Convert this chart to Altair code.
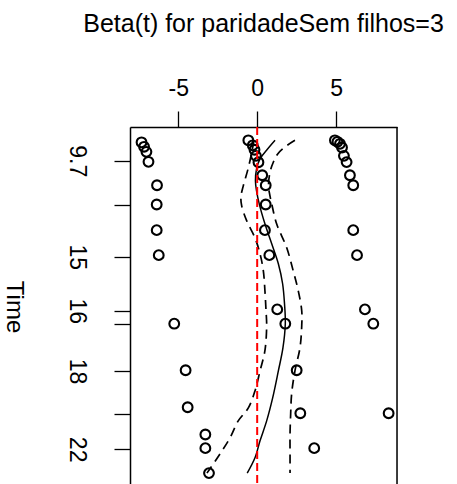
import altair as alt
import pandas as pd

# Schoenfeld-type residual points (beta) vs transformed time (0..1, KM scale)
left_beta = [-7.32, -7.16, -7.01, -6.88, -6.34, -6.36, -6.36, -6.23, -5.25, -4.53, -4.40, -3.28, -3.28, -3.05]
left_t = [0.006, 0.0195, 0.0346, 0.0646, 0.135, 0.193, 0.270, 0.345, 0.551, 0.691, 0.802, 0.884, 0.925, 1.0]
mid_beta = [-0.56, -0.28, -0.17, -0.08, 0.08, 0.32, 0.54, 0.54, 0.49, 0.77, 1.27, 1.78, 2.50, 2.73, 3.61]
mid_t = [0.0, 0.015, 0.0285, 0.0466, 0.066, 0.105, 0.135, 0.193, 0.270, 0.345, 0.508, 0.551, 0.691, 0.820, 0.925]
right_beta = [4.92, 5.08, 5.24, 5.37, 5.49, 5.66, 5.87, 6.08, 6.08, 6.32, 6.82, 7.35, 8.32]
right_t = [0.0, 0.0045, 0.0105, 0.0216, 0.0466, 0.0655, 0.105, 0.135, 0.270, 0.345, 0.508, 0.551, 0.820]

# smooth fit and confidence band
fit_t = [0, 0.0285, 0.0556, 0.0857, 0.122, 0.152, 0.191, 0.251, 0.311, 0.371, 0.431, 0.491, 0.551,
         0.624, 0.693, 0.774, 0.843, 0.903, 0.954, 1.0]
fit_beta = [1.13, 0.62, 0.18, -0.04, -0.11, -0.04, 0.13, 0.49, 0.92, 1.34, 1.61, 1.73, 1.78,
            1.63, 1.34, 0.98, 0.60, 0.18, -0.14, -0.63]
upper_t = [0, 0.020, 0.041, 0.066, 0.096, 0.137, 0.167, 0.191, 0.251, 0.323, 0.392, 0.452, 0.512,
           0.557, 0.623, 0.693, 0.762, 0.822, 0.881, 0.942, 1.0]
upper_beta = [2.39, 1.76, 1.30, 1.02, 0.81, 0.72, 0.81, 0.92, 1.23, 1.87, 2.28, 2.60, 2.82,
              2.82, 2.71, 2.39, 2.18, 2.12, 2.08, 2.08, 2.08]
lower_t = [0, 0.047, 0.086, 0.137, 0.170, 0.197, 0.242, 0.293, 0.341, 0.392, 0.452, 0.512, 0.557,
           0.632, 0.693, 0.753, 0.804, 0.843, 0.894, 0.942, 0.987, 1.0]
lower_beta = [-0.20, -0.39, -0.58, -0.88, -1.03, -0.98, -0.66, -0.14, 0.18, 0.39, 0.49, 0.56, 0.60,
              0.49, 0.18, -0.14, -0.56, -1.20, -1.72, -2.35, -2.99, -3.18]

# time axis ticks (transformed positions) and labels
tick_t = [0.0616, 0.195, 0.350, 0.512, 0.552, 0.693, 0.823, 0.928]
tick_labels = ["9.7", "", "15", "16", "", "18", "", "22"]
x_ticks = [-5, 0, 5]
ref_beta = [0]

FONT = "Liberation Sans"

pts = pd.DataFrame({
    "beta": left_beta + mid_beta + right_beta,
    "t": left_t + mid_t + right_t,
})
fit = pd.DataFrame({"beta": fit_beta, "t": fit_t})
upper = pd.DataFrame({"beta": upper_beta, "t": upper_t})
lower = pd.DataFrame({"beta": lower_beta, "t": lower_t})
ref = pd.DataFrame({"beta": ref_beta})

expr = " : ".join(f"datum.value == {v} ? '{l}'" for v, l in zip(tick_t, tick_labels)) + " : ''"

x_enc = alt.X(
    "beta:Q",
    title=None,
    scale=alt.Scale(domain=[-8.05, 8.85], nice=False, zero=False),
    axis=alt.Axis(orient="top", values=x_ticks, tickSize=16, labelPadding=11,
                  labelExpr="replace(datum.label, '\u2212', '-')",
                  labelFontSize=23, labelFont=FONT, labelColor="black",
                  domainColor="black", domainWidth=1.5, tickColor="black", tickWidth=1.3,
                  grid=False, labelFlush=False),
)
y_enc = alt.Y(
    "t:Q",
    title="Time",
    scale=alt.Scale(domain=[-0.04, 1.0327], nice=False, zero=False, reverse=True),
    axis=alt.Axis(values=tick_t, labelExpr=expr, tickSize=16, labelPadding=27,
                  labelAngle=90, labelAlign="center", labelBaseline="top",
                  labelFontSize=23, labelFont=FONT, labelColor="black",
                  domainColor="black", domainWidth=1.5, tickColor="black", tickWidth=1.3,
                  grid=False, labelFlush=False, labelOverlap=False,
                  titleFontSize=24, titleFont=FONT, titleFontWeight="normal", titleColor="black",
                  titleAngle=90, titleAlign="center", titleBaseline="middle",
                  titleX=-116.4, titleY=179.5),
)

points = alt.Chart(pts).mark_point(
    shape="circle", filled=False, size=95, strokeWidth=2.1, color="black", opacity=1
).encode(x=x_enc, y=y_enc)

fit_line = alt.Chart(fit).mark_line(
    color="black", strokeWidth=1.5, interpolate="catmull-rom"
).encode(x=x_enc, y=y_enc, order="t:Q")

upper_line = alt.Chart(upper).mark_line(
    color="black", strokeWidth=1.7, strokeDash=[9, 6], interpolate="catmull-rom"
).encode(x=x_enc, y=y_enc, order="t:Q")

lower_line = alt.Chart(lower).mark_line(
    color="black", strokeWidth=1.7, strokeDash=[9, 6], interpolate="catmull-rom"
).encode(x=x_enc, y=y_enc, order="t:Q")

ref_line = alt.Chart(ref).mark_rule(
    color="#FF0000", strokeWidth=2, strokeDash=[8, 4]
).encode(x=x_enc)

right_edge = alt.Chart(ref).mark_rule(color="black", strokeWidth=1.5).encode(
    x=alt.value(267), y=alt.value(0), y2=alt.value(357)
)

chart = alt.layer(points, fit_line, upper_line, lower_line, ref_line, right_edge).properties(
    width=267,
    height=357,
    autosize=alt.AutoSizeParams(type="none"),
    padding={"left": 130, "top": 127, "right": 60, "bottom": 0},
    title=alt.TitleParams(
        "Beta(t) for paridadeSem filhos=3", fontSize=25, font=FONT, fontWeight="normal",
        color="black", anchor="middle", frame="group", offset=40,
    ),
).configure_view(strokeWidth=0).configure(font=FONT, background="white")

chart.save("out.html", embed_options={"renderer": "svg", "actions": False})
